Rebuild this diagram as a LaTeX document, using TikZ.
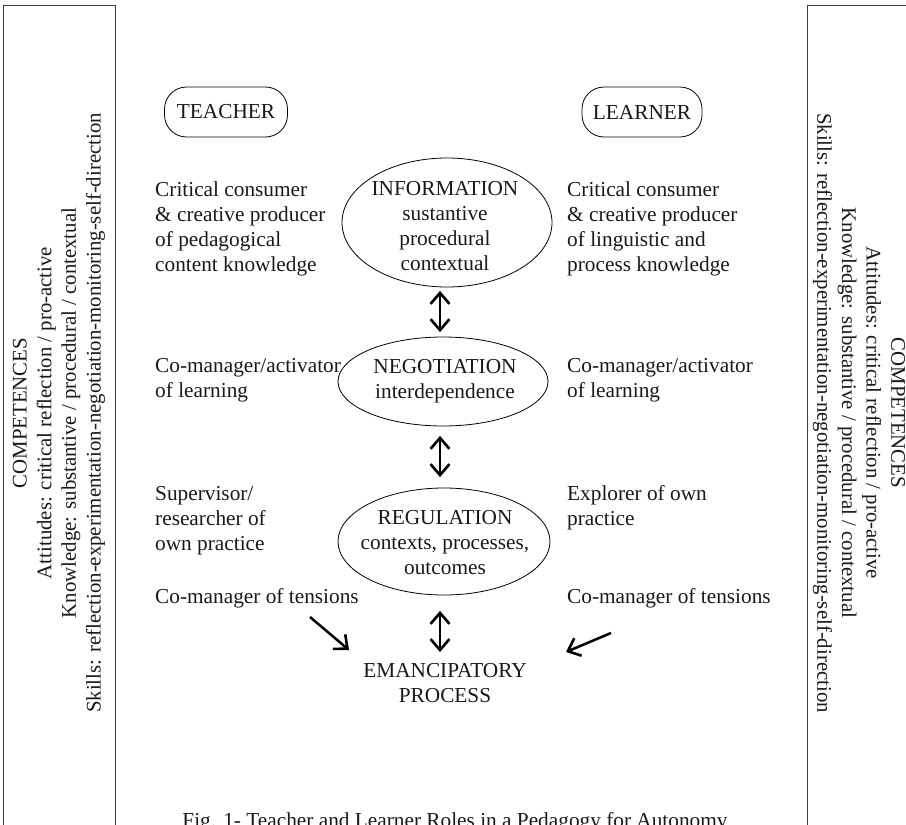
\documentclass[tikz,border=0pt]{standalone}
\usepackage{fontspec}
\setmainfont{Liberation Serif}
\usetikzlibrary{shapes.geometric,arrows.meta}
\tikzset{
  every node/.style={inner sep=0pt, text=black!90},
  mainfont/.style={font=\fontsize{21.3}{25}\selectfont},
  body/.style={mainfont, execute at begin node=\strut, align=left, anchor=north west},
  ctext/.style={mainfont, execute at begin node=\strut, align=center, anchor=north},
  role/.style={draw, line width=0.8pt, rounded corners=22pt, minimum height=50pt, mainfont},
  stage/.style={draw, ellipse, line width=0.8pt},
  tipb/.tip={Straight Barb[length=11pt, width=19pt, line width=2.6pt]},
  dbl/.style={tipb-tipb, line width=2.5pt},
  arr/.style={-tipb, line width=2.5pt},
  sidebox/.style={draw=black!75, line width=0.9pt},
  sidetext/.style={font=\fontsize{20.8}{24.7}\selectfont, align=center}
}
\begin{document}
\begin{tikzpicture}[x=1pt, y=-1pt]
\useasboundingbox (0,0) rectangle (906,825);
\clip (0,0) rectangle (906,825);
\fill[white] (0,0) rectangle (906,825);

% side panels
\draw[sidebox] (3,840) -- (3,5) -- (115,5) -- (115,840);
\draw[sidebox] (807,840) -- (807,5) -- (915,5);
\node[sidetext, rotate=90] (compL) at (59,413) {COMPETENCES\\
Attitudes: critical reflection / pro-active\\
Knowledge: substantive / procedural / contextual\\
Skills: reflection-experimentation-negotiation-monitoring-self-direction};
\node[sidetext, rotate=-90] (compR) at (859,413) {COMPETENCES\\
Attitudes: critical reflection / pro-active\\
Knowledge: substantive / procedural / contextual\\
Skills: reflection-experimentation-negotiation-monitoring-self-direction};

% roles
\node[role, minimum width=123pt] (teacher) at (226,112) {TEACHER};
\node[role, minimum width=120pt] (learner) at (642,112) {LEARNER};

% ellipses
\node[stage, minimum width=210pt, minimum height=129pt] (info) at (447,222.5) {};
\node[stage, minimum width=210pt, minimum height=89pt] (neg) at (443,381.5) {};
\node[stage, minimum width=212pt, minimum height=107pt] (reg) at (444,541.5) {};

\node[ctext] (infot) at (445,181.5) {INFORMATION\\ sustantive\\ procedural\\ contextual};
\node[ctext] (negt) at (445,359) {NEGOTIATION\\ interdependence};
\node[ctext] (regt) at (445,510.5) {REGULATION\\ contexts, processes,\\ outcomes};
\node[ctext] (eman) at (445,663.5) {EMANCIPATORY\\ PROCESS};

% teacher column
\node[body] (t1) at (155,181.5) {Critical consumer\\ \& creative producer\\ of pedagogical\\ content knowledge};
\node[body] (t2) at (155,358.5) {Co-manager/activator\\ of learning};
\node[body] (t3) at (155,486.5) {Supervisor/\\ researcher of\\ own practice};
\node[body] (t4) at (155,585.5) {Co-manager of tensions};

% learner column
\node[body] (l1) at (567,181.5) {Critical consumer\\ \& creative producer\\ of linguistic and\\ process knowledge};
\node[body] (l2) at (567,358.5) {Co-manager/activator\\ of learning};
\node[body] (l3) at (567,485.5) {Explorer of own\\ practice};
\node[body] (l4) at (567,585.5) {Co-manager of tensions};

% caption
\node[ctext] (cap) at (455,809.5) {Fig. 1- Teacher and Learner Roles in a Pedagogy for Autonomy};

% connectors
\draw[dbl, shorten <=3.5pt, shorten >=4.5pt] ([xshift=-7pt]info.south) -- ([xshift=-3pt]neg.north);
\draw[dbl, shorten <=9.5pt, shorten >=10.5pt] ([xshift=-3pt]neg.south) -- ([xshift=-4pt]reg.north);
\draw[dbl, shorten <=15.5pt, shorten >=11.5pt] ([xshift=-4pt]reg.south) -- ([xshift=-5pt]eman.north);
\coordinate (tailL) at (310,617);
\coordinate (tipL) at (349,650);
\coordinate (tailR) at (611,633);
\coordinate (tipR) at (566,652);
\draw[arr] (tailL) -- (tipL);
\draw[arr] (tailR) -- (tipR);
\end{tikzpicture}
\end{document}
